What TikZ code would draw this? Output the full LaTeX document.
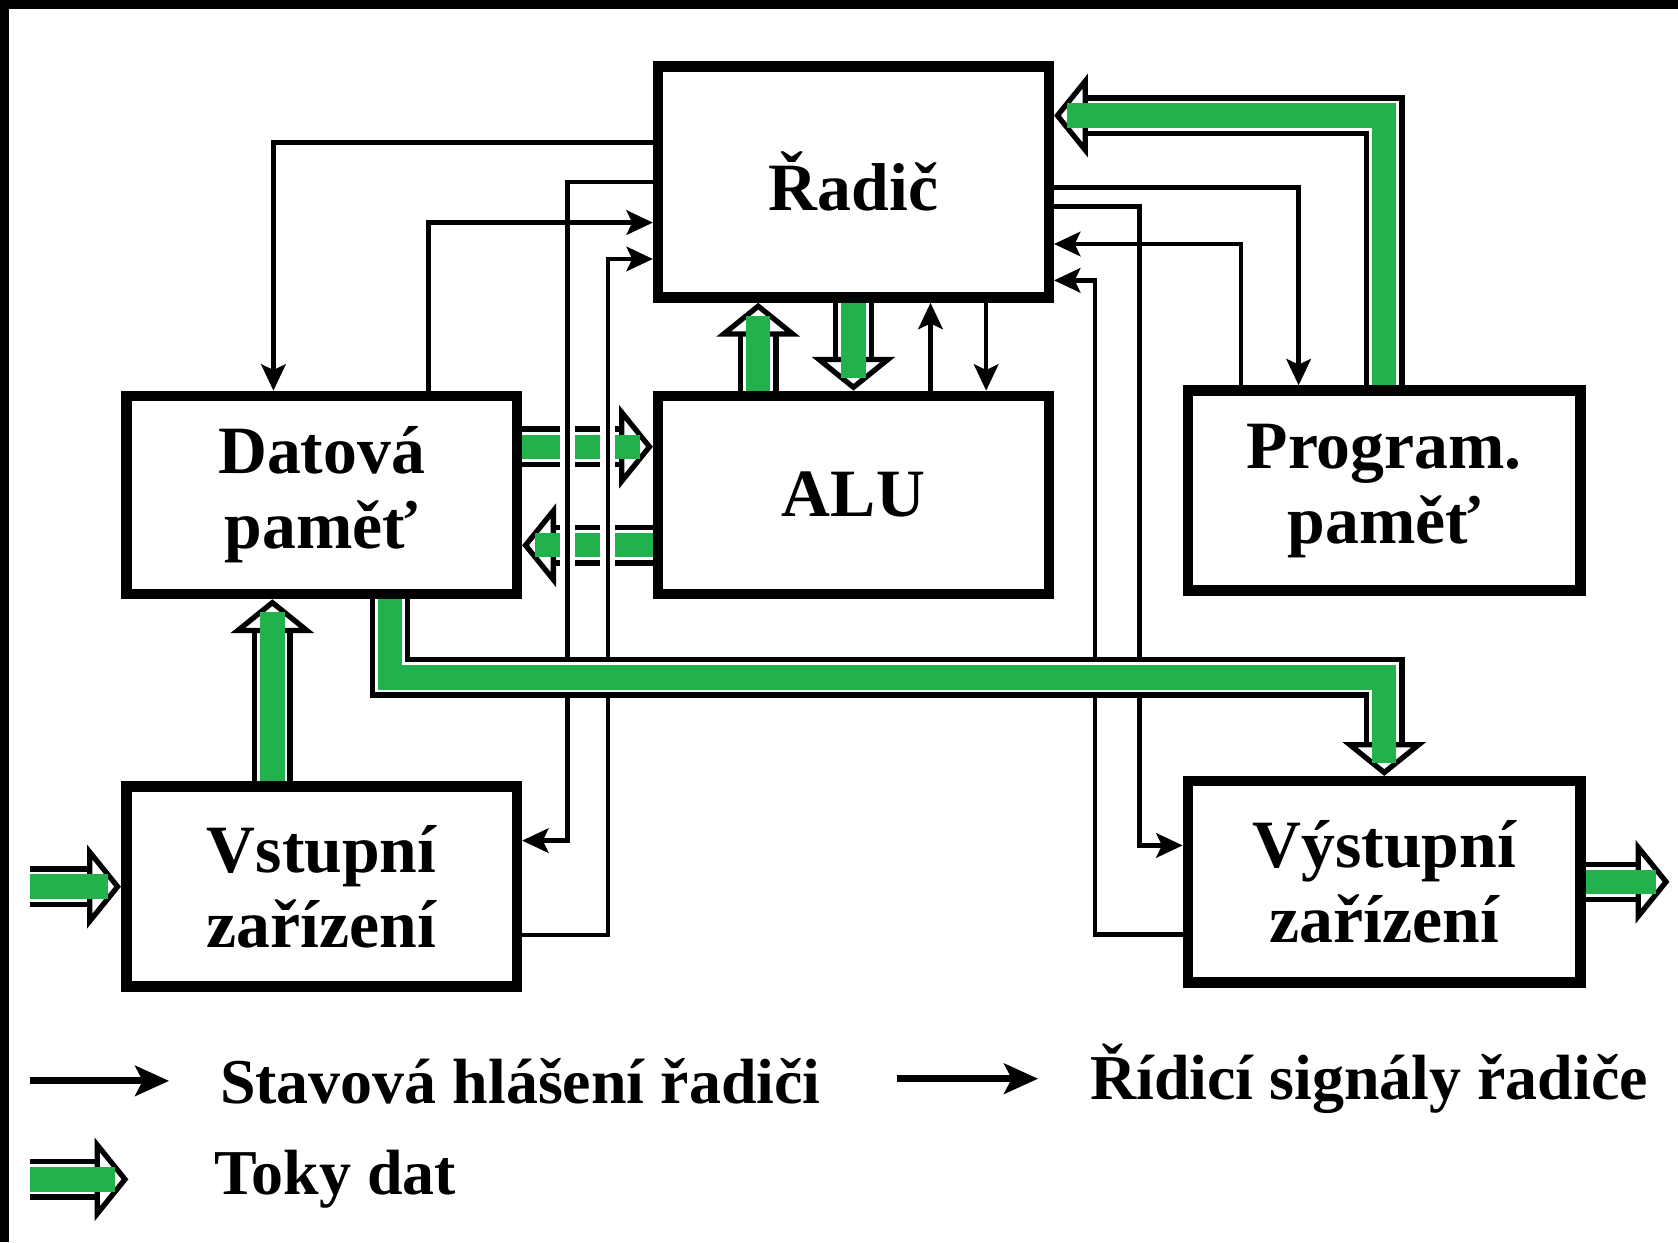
\documentclass[tikz,border=0pt]{standalone}
\usepackage{fontspec}
\setmainfont{Liberation Serif}
\usetikzlibrary{arrows.meta, positioning, calc}
\definecolor{flowgreen}{RGB}{34,177,76}

\begin{document}
\begin{tikzpicture}[
    blok/.style={draw, line width=2.8pt, minimum width=3.65cm, align=center,
      font=\fontsize{18}{20}\selectfont\bfseries},
    ctrl/.style={line width=1.2pt, -{Stealth[length=7pt, width=6.5pt, inset=1.5pt]}},
    gap/.style={preaction={draw=white, line width=4pt, -, shorten <=1.6pt, shorten >=1.6pt}},
    tok/.style={line width=1.4pt, double=white, double distance=8pt,
      -{Triangle[fill=white, length=9pt, width=22pt, line width=1.4pt]}},
    tokfill/.style={draw=flowgreen, line width=6.5pt, shorten >=3.5pt},
    popis/.style={font=\fontsize{17}{20}\selectfont\bfseries, inner sep=0pt},
    legarrow/.style={line width=1.8pt, -{Stealth[length=9pt, width=8pt, inset=2pt]}}
  ]
	% Canvas and frame
	\fill[white] (0,0) rectangle (15.68,-11.61);
	\useasboundingbox (0,0) rectangle (15.68,-11.61);
	\fill[black] (0,0) rectangle (15.68,-0.085);
	\fill[black] (0,0) rectangle (0.085,-11.61);

	% Units
	\node[blok, minimum height=2.16cm] (radic) at (7.975,-1.70) {Řadič};
	\node[blok, minimum height=1.85cm] (datova) at (3.005,-4.625) {Datová\\paměť};
	\node[blok, minimum height=1.85cm] (alu) at (7.975,-4.625) {ALU};
	\node[blok, minimum height=1.87cm, minimum width=3.67cm] (program) at (12.935,-4.585) {Program.\\paměť};
	\node[blok, minimum height=1.87cm] (vstup) at (3.005,-8.285) {Vstupní\\zařízení};
	\node[blok, minimum height=1.88cm, minimum width=3.67cm] (vystup) at (12.935,-8.24) {Výstupní\\zařízení};

	% Free ends
	\coordinate (vin) at (0.28,-8.285);
	\coordinate (vout) at (15.60,-8.24);

	% Data flows memory <-> ALU
	\draw[tok] ([yshift=4.5mm]datova.east) -- ([yshift=4.5mm]alu.west);
	\draw[tokfill] ([yshift=4.5mm]datova.east) -- ([yshift=4.5mm]alu.west);
	\draw[tok] ([yshift=-4.7mm]alu.west) -- ([yshift=-4.7mm]datova.east);
	\draw[tokfill] ([yshift=-4.7mm]alu.west) -- ([yshift=-4.7mm]datova.east);

	% Control signals and status lines, left side
	\draw[ctrl] ([yshift=3.7mm]radic.west) -| ([xshift=-4.5mm]datova.north);
	\draw[ctrl, gap] (radic.west) -- ++(-0.8,0) |- ([yshift=4.3mm]vstup.east);
	\draw[ctrl, gap] ([yshift=-4.5mm]vstup.east) -- ++(0.8,0) |- ([yshift=-7.2mm]radic.west);
	\draw[ctrl] ([xshift=10mm]datova.north) |- ([yshift=-3.8mm]radic.west);

	% Right side
	\draw[ctrl] ([yshift=-0.5mm]radic.east) -| ([xshift=-8mm]program.north);
	\draw[ctrl] ([xshift=-13.4mm]program.north) |- ([yshift=-5.8mm]radic.east);
	\draw[ctrl] ([yshift=-2.3mm]radic.east) -- ++(0.8,0) |- ([yshift=3.4mm]vystup.west);
	\draw[ctrl] ([yshift=-4.9mm]vystup.west) -- ++(-0.82,0) |- ([yshift=-9.2mm]radic.east);

	% Between controller and ALU
	\draw[ctrl] ([xshift=7.2mm]alu.north) -- ([xshift=7.2mm]radic.south);
	\draw[ctrl] ([xshift=12.4mm]radic.south) -- ([xshift=12.4mm]alu.north);

	% Other data flows
	\draw[tok] (program.north) |- ([yshift=6.2mm]radic.east);
	\draw[tokfill] (program.north) |- ([yshift=6.2mm]radic.east);
	\draw[tok] ([xshift=-8.9mm]alu.north) -- ([xshift=-8.9mm]radic.south);
	\draw[tokfill] ([xshift=-8.9mm]alu.north) -- ([xshift=-8.9mm]radic.south);
	\draw[tok] (radic.south) -- (alu.north);
	\draw[tokfill] (radic.south) -- (alu.north);
	\draw[tok] ([xshift=-4.6mm]vstup.north) -- ([xshift=-4.6mm]datova.south);
	\draw[tokfill] ([xshift=-4.6mm]vstup.north) -- ([xshift=-4.6mm]datova.south);
	\draw[tok] ([xshift=6.4mm]datova.south) -- ++(0,-0.73) -| (vystup.north);
	\draw[tokfill] ([xshift=6.4mm]datova.south) -- ++(0,-0.73) -| (vystup.north);
	\draw[tok] (vin) -- (vstup.west);
	\draw[tokfill] (vin) -- (vstup.west);
	\draw[tok] (vystup.east) -- (vout);
	\draw[tokfill] (vystup.east) -- (vout);

	% Legend
	\coordinate (ls1) at (0.28,-10.10);
	\coordinate (le1) at (1.58,-10.10);
	\draw[legarrow] (ls1) -- (le1);
	\node[popis, right=0.47cm of le1] (leg1) {Stavová hlášení řadiči};
	\coordinate (ls2) at (8.38,-10.08);
	\coordinate (le2) at (9.70,-10.08);
	\draw[legarrow] (ls2) -- (le2);
	\node[popis, right=0.48cm of le2] (leg2) {Řídicí signály řadiče};
	\coordinate (ls3) at (0.28,-11.02);
	\coordinate (le3) at (1.20,-11.02);
	\draw[tok] (ls3) -- (le3);
	\draw[tokfill] (ls3) -- (le3);
	\node[popis, right=0.80cm of le3] (leg3) {Toky dat};
\end{tikzpicture}
\end{document}
